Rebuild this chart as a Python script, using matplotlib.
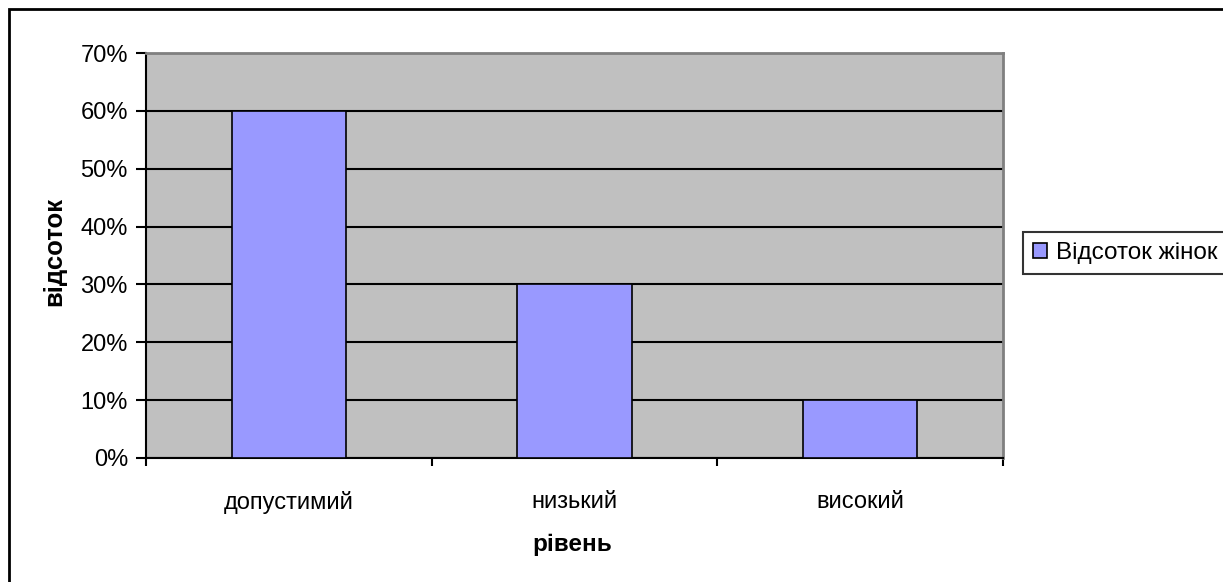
import numpy as np
import matplotlib.pyplot as plt
from matplotlib.patches import Rectangle
from matplotlib.ticker import FuncFormatter

plt.rcParams['font.family'] = ['Liberation Sans', 'DejaVu Sans']

# Дані
categories = ['допустимий', 'низький', 'високий']
values = [60, 30, 10]
series_name = 'Відсоток жінок'

W, H = 1223, 582
fig = plt.figure(figsize=(W / 100, H / 100), dpi=100)
fig.patch.set_facecolor('white')

# Рамка діаграми (права та нижня сторони за межами зображення)
fig.patches.append(Rectangle((9 / W, -0.05), 1.2, 1 - 9 / H + 0.05,
                             transform=fig.transFigure, fill=False,
                             edgecolor='black', linewidth=2))

ax = fig.add_axes([146 / W, 1 - 458 / H, 857 / W, 405 / H])
ax.set_facecolor('#c0c0c0')

x = np.arange(len(categories))
ax.bar(x, values, width=0.4, color='#9999ff', edgecolor='black',
       linewidth=1.2, label=series_name, zorder=3)

ax.set_xlim(-0.5, len(categories) - 0.5)
ax.set_ylim(0, 70)
ax.set_yticks(np.arange(0, 71, 10))
ax.yaxis.set_major_formatter(FuncFormatter(lambda v, p: f'{v:.0f}%'))
ax.grid(axis='y', color='black', linewidth=1.5, zorder=1)
ax.set_axisbelow(True)

# Мітки категорій між поділками
ax.set_xticks(np.arange(-0.5, len(categories), 1))
ax.set_xticklabels([])
ax.set_xticks(x, minor=True)
ax.set_xticklabels(categories, minor=True, fontsize=17)
ax.tick_params(axis='x', which='minor', length=0, pad=24)
ax.tick_params(axis='x', which='major', length=6, width=1.5, direction='out')
ax.tick_params(axis='y', length=7, width=1.5, direction='out', labelsize=17, pad=6)

for s in ['top', 'right']:
    ax.spines[s].set_color('#808080')
    ax.spines[s].set_linewidth(2)
for s in ['left', 'bottom']:
    ax.spines[s].set_color('black')
    ax.spines[s].set_linewidth(1.5)

# Підписи осей
fig.text(54 / W, 1 - 252 / H, 'відсоток', rotation=90, fontsize=18.5,
         fontweight='bold', ha='center', va='center')
fig.text(572 / W, 1 - 545 / H, 'рівень', fontsize=17.5,
         fontweight='bold', ha='center', va='center')

leg = ax.legend(loc='upper left', bbox_to_anchor=(1023 / W, 1 - 232 / H),
                bbox_transform=fig.transFigure, fontsize=17.5, frameon=True,
                fancybox=False, edgecolor='black', handlelength=0.55,
                handleheight=0.55, handletextpad=0.4, borderpad=0.42,
                borderaxespad=0)
leg.get_frame().set_linewidth(1.5)

plt.savefig('out.png', dpi=100, facecolor='white')
